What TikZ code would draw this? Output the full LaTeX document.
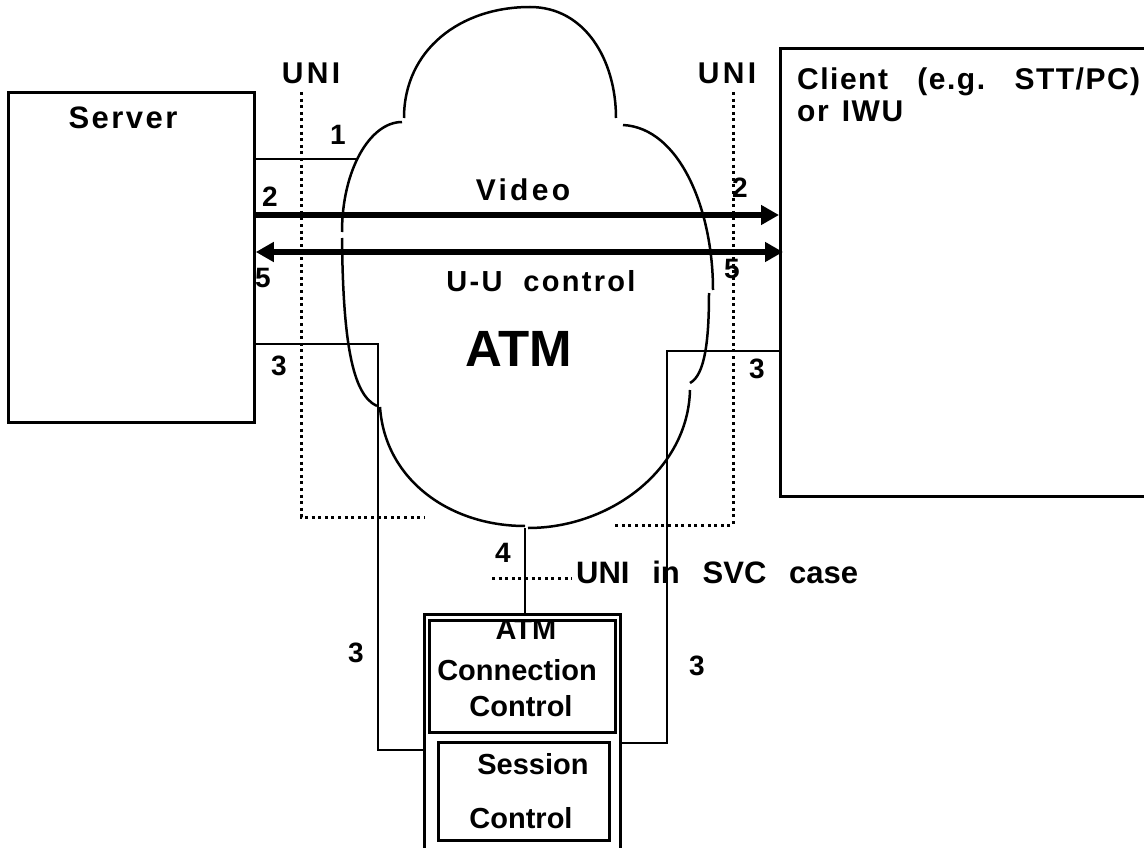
\documentclass[tikz,border=0pt]{standalone}
\usepackage{fontspec}
\setmainfont{Liberation Sans}
\newfontfamily\spacedfont[LetterSpace=8]{Liberation Sans}
\newfontfamily\wideface[LetterSpace=11]{Liberation Sans}
\newfontfamily\clientfont[LetterSpace=5]{Liberation Sans}
\usetikzlibrary{arrows.meta}
\begin{document}
\begin{tikzpicture}[x=1pt,y=-1pt,
  txt/.style={inner sep=0pt, font=\fontsize{29}{29}\selectfont\bfseries},
  stxt/.style={inner sep=0pt, font=\fontsize{31}{31}\selectfont\spacedfont\bfseries},
  wtxt/.style={inner sep=0pt, font=\fontsize{30}{30}\selectfont\wideface\bfseries},
  ctxt/.style={inner sep=0pt, font=\fontsize{30}{30}\selectfont\clientfont\bfseries},
  num/.style={inner sep=0pt, font=\fontsize{28}{28}\selectfont\bfseries},
  bigtxt/.style={inner sep=0pt, font=\fontsize{51}{51}\selectfont\bfseries},
  box/.style={draw, line width=2.8pt, inner sep=0pt, anchor=north west},
  conn/.style={line width=2.6pt},
  bus/.style={line width=5.5pt},
  cloudline/.style={line width=2.5pt},
  unib/.style={line width=3pt, dash pattern=on 3pt off 3.6pt},
  tipa/.tip={Triangle[length=18pt,width=19pt]}
]
\useasboundingbox (0,0) rectangle (1144,848);
\fill[white] (0,0) rectangle (1144,848);

% boxes
\node[box, minimum width=420pt, minimum height=448pt] (client) at (779,47) {};
\node[box, minimum width=246pt, minimum height=330pt] (server) at (7,91) {};
\node[box, minimum width=196pt, minimum height=270pt] (ctrl) at (423,613) {};
\node[box, minimum width=186pt, minimum height=112pt] (acc) at (428,619) {};
\node[box, minimum width=171pt, minimum height=98pt] (sess) at (437,741) {};

% cloud
\draw[cloudline] (404,118) .. controls (404,50) and (460,7) .. (530,7)
                           .. controls (585,7) and (616,60) .. (616,118);
\draw[cloudline] (402,122) .. controls (370,122) and (342,170) .. (342,232);
\draw[cloudline] (342,238) .. controls (343,340) and (352,395) .. (377,406);
\draw[cloudline] (380,407) .. controls (385,480) and (450,526) .. (525,526);
\draw[cloudline] (528,528) .. controls (610,528) and (688,470) .. (690,390);
\draw[cloudline] (690,383) .. controls (705,375) and (709,340) .. (709,293);
\draw[cloudline] (623,125) .. controls (680,128) and (713,210) .. (713,290);

% UNI boundaries
\draw[unib] (301,92) -- (301,517) -- (425,517);
\draw[unib] (733,92) -- (733,525) -- (612,525);
\draw[unib] (492,578) -- (572,578);

% connector coordinates
\coordinate (c1) at (358,159);
\coordinate (yv) at (0,215);
\coordinate (yu) at (0,252);
\coordinate (uR) at (783,252);
\coordinate (yl3) at (0,344);
\coordinate (l3a) at (378,344);
\coordinate (l3b) at (378,750);
\coordinate (yr3) at (0,351);
\coordinate (r3a) at (667,351);
\coordinate (r3b) at (667,743);
\coordinate (c4) at (525,528);

% connectors
\draw[conn] (server.east |- c1) -- (c1);
\draw[bus, -{tipa}] (server.east |- yv) -- (client.west |- yv);
\draw[bus, {tipa}-{tipa}] (server.east |- yu) -- (uR);
\draw[conn] (server.east |- yl3) -- (l3a) -- (l3b) -- (ctrl.west |- l3b);
\draw[conn] (client.west |- yr3) -- (r3a) -- (r3b) -- (ctrl.east |- r3b);
\draw[conn] (c4) -- (c4 |- ctrl.north);

% texts
\node[stxt] (tserver) at (123,118) {Server};
\node[wtxt] (tuniL) at (311,73) {UNI};
\node[wtxt] (tuniR) at (727,73) {UNI};
\node[wtxt] (tvideo) at (523,190) {Video};
\node[stxt, font=\fontsize{29}{29}\selectfont\spacedfont\bfseries] (tuu) at (541,281) {U-U\ \ control};
\node[bigtxt] (tatm) at (519,349) {ATM};
\node[ctxt, anchor=base west] (tcl1) at (797,90) {\hbox to 343pt{Client\hfil(e.g.\hfil STT/PC)}};
\node[ctxt, anchor=base west] (tcl2) at (797,122) {\hbox to 106pt{or\hfil IWU}};
\node[txt, font=\fontsize{31}{31}\selectfont\bfseries, anchor=west] (tsvc) at (576,572) {\hbox to 282pt{UNI\hfil in\hfil SVC\hfil case}};

\node[txt] (tacc1) at (526,630) {ATM};
\node[txt] (tacc2) at (517,670) {Connection};
\node[txt] (tacc3) at (521,706) {Control};
\node[txt] (tses1) at (533,764) {Session};
\node[txt] (tses2) at (521,818) {Control};

\node[num] (n1) at (338,135) {1};
\node[num] (n2L) at (270,197) {2};
\node[num] (n5L) at (263,278) {5};
\node[num] (n3L) at (279,366) {3};
\node[num] (n2R) at (740,188) {2};
\node[num] (n5R) at (732,269) {5};
\node[num] (n3R) at (757,369) {3};
\node[num] (n3LL) at (356,653) {3};
\node[num] (n3RR) at (697,666) {3};
\node[num] (n4) at (503,553) {4};
\end{tikzpicture}
\end{document}
